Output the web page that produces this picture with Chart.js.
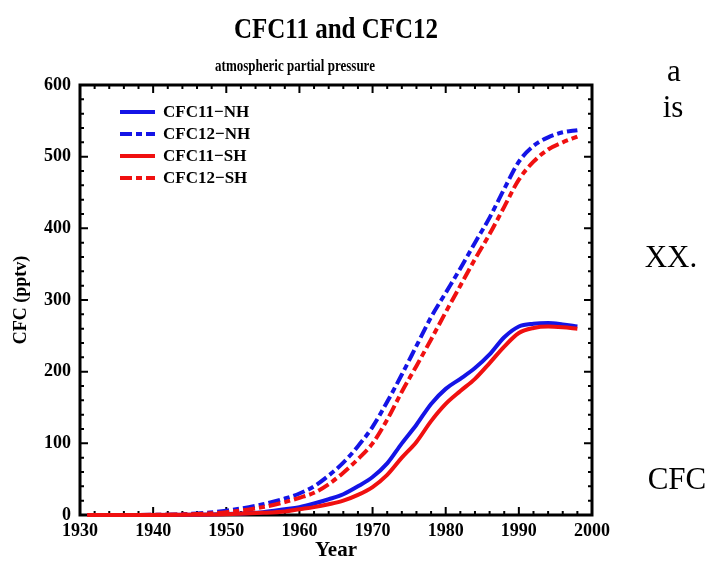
<!DOCTYPE html>
<html>
<head>
<meta charset="utf-8">
<script src="https://cdn.jsdelivr.net/npm/chart.js@4.4.0/dist/chart.umd.min.js"></script>
<style>
body { margin: 0; background: #fff; }
#wrap { position: relative; width: 712px; height: 563px; overflow: hidden; font-family: "Liberation Serif", "Times New Roman", serif; }
#chart { position: absolute; left: 0; top: 0; }
.t { position: absolute; white-space: nowrap; color: #000; line-height: 1; transform: translate(-50%, -50%); }
.b { font-weight: bold; transform: translate(-50%, -50%) scaleY(1.2); }
.sub { transform: translate(-50%, -50%) scaleY(1.35); }
.side { font-size: 31px; }
</style>
</head>
<body>
<div id="wrap">
  <canvas id="chart" width="712" height="563"></canvas>
  <div class="t b" style="left:336px;top:28px;font-size:25px;">CFC11 and CFC12</div>
  <div class="t b sub" style="left:295px;top:65px;font-size:13px;">atmospheric partial pressure</div>
  <div class="t side" style="left:674px;top:70px;">a</div>
  <div class="t side" style="left:673px;top:106px;">is</div>
  <div class="t side" style="left:671px;top:256px;">XX.</div>
  <div class="t side" style="left:677px;top:478px;">CFC</div>
</div>
<script>
// values (pptv)
const years = [1931, 1935, 1940, 1945, 1950, 1955, 1958, 1960, 1962, 1964, 1966, 1968, 1970,
               1972, 1974, 1976, 1978, 1980, 1982, 1984, 1986, 1988, 1990, 1992, 1994, 1996, 1998];
const cfc11NH = [0, 0, 0, 0.3, 1.5, 4, 8, 11, 16, 22, 29, 40, 53,
                 72, 100, 126, 155, 176, 190, 205, 224, 248, 263, 267, 268, 266, 263];
const cfc12NH = [0, 0, 0.3, 1.5, 6, 15, 23, 30, 40, 55, 73, 96, 123,
                 158, 196, 236, 276, 310, 344, 380, 415, 455, 493, 515, 527, 534, 537];
const cfc11SH = [0, 0, 0, 0.2, 1, 3, 5, 8, 11, 15, 20, 28, 39,
                 56, 80, 102, 131, 155, 173, 190, 212, 235, 254, 261, 263, 262, 260];
const cfc12SH = [0, 0, 0.2, 1, 4, 11, 18, 24, 31, 43, 59, 78, 100,
                 133, 172, 208, 245, 283, 320, 357, 392, 430, 468, 493, 510, 520, 528];

const seriesNames = ['CFC11\u2212NH', 'CFC12\u2212NH', 'CFC11\u2212SH', 'CFC12\u2212SH'];
const xTickLabels = ['1930', '1940', '1950', '1960', '1970', '1980', '1990', '2000'];
const yTickLabels = ['0', '100', '200', '300', '400', '500', '600'];

const BLUE = '#1414e6';
const RED = '#f01010';
const DASH = [12, 4, 6, 4];
const FONT = '"Liberation Serif", "Times New Roman", serif';

function pts(vals) {
    return years.map((yr, i) => ({ x: yr, y: vals[i] }));
}

function makeSet(label, vals, color, dashed, order) {
    return {
        label: label,
        data: pts(vals),
        borderColor: color,
        backgroundColor: color,
        borderWidth: 4,
        borderDash: dashed ? DASH : [],
        pointRadius: 0,
        fill: false,
        cubicInterpolationMode: 'monotone',
        clip: false,
        order: order
    };
}

// frame round the plot with inward major/minor ticks on all four sides
const frameTicks = {
    id: 'frameTicks',
    beforeDatasetsDraw(chart) {
        const { ctx, chartArea: a, scales: { x, y } } = chart;
        ctx.save();
        ctx.strokeStyle = '#000';
        ctx.lineWidth = 2;
        ctx.beginPath();
        for (let v = 1930; v <= 2000; v += 2) {
            const px = x.getPixelForValue(v);
            const len = v % 10 === 0 ? 8 : 4;
            ctx.moveTo(px, a.bottom); ctx.lineTo(px, a.bottom - len);
            ctx.moveTo(px, a.top); ctx.lineTo(px, a.top + len);
        }
        for (let v = 0; v <= 600; v += 20) {
            const py = y.getPixelForValue(v);
            const len = v % 100 === 0 ? 8 : 4;
            ctx.moveTo(a.left, py); ctx.lineTo(a.left + len, py);
            ctx.moveTo(a.right, py); ctx.lineTo(a.right - len, py);
        }
        ctx.stroke();
        ctx.lineWidth = 3;
        ctx.strokeRect(a.left, a.top, a.right - a.left, a.bottom - a.top);
        ctx.restore();
    }
};

// legend box inside the plot, top-left
const insideLegend = {
    id: 'insideLegend',
    afterDatasetsDraw(chart) {
        const ctx = chart.ctx;
        ctx.save();
        ctx.font = 'bold 17px ' + FONT;
        ctx.textBaseline = 'middle';
        ctx.fillStyle = '#000';
        chart.data.datasets.forEach((ds, i) => {
            const yy = 112 + i * 22;
            ctx.strokeStyle = ds.borderColor;
            ctx.lineWidth = 4;
            ctx.setLineDash(ds.borderDash);
            ctx.beginPath();
            ctx.moveTo(120, yy);
            ctx.lineTo(155, yy);
            ctx.stroke();
            ctx.setLineDash([]);
            ctx.fillText(ds.label, 163, yy + 1);
        });
        ctx.restore();
    }
};

new Chart(document.getElementById('chart'), {
    type: 'line',
    data: {
        datasets: [
            makeSet(seriesNames[0], cfc11NH, BLUE, false, 1),
            makeSet(seriesNames[1], cfc12NH, BLUE, true, 1),
            makeSet(seriesNames[2], cfc11SH, RED, false, 0),
            makeSet(seriesNames[3], cfc12SH, RED, true, 0)
        ]
    },
    options: {
        responsive: false,
        animation: false,
        layout: { padding: { top: 85, right: 120, left: 0, bottom: 0 } },
        plugins: {
            legend: { display: false },
            tooltip: { enabled: false }
        },
        scales: {
            x: {
                type: 'linear',
                min: 1930,
                max: 2000,
                afterFit(s) { s.height = 48; },
                grid: { display: false, drawTicks: false, tickLength: 0 },
                border: { display: false },
                ticks: {
                    stepSize: 10,
                    padding: 6,
                    color: '#000',
                    font: { family: FONT, size: 18, weight: 'bold' },
                    callback: (v) => xTickLabels[xTickLabels.indexOf(String(v))]
                },
                title: {
                    display: true,
                    text: 'Year',
                    color: '#000',
                    padding: { top: 0, bottom: 0 },
                    font: { family: FONT, size: 21, weight: 'bold' }
                }
            },
            y: {
                min: 0,
                max: 600,
                afterFit(s) { s.width = 80; },
                grid: { display: false, drawTicks: false, tickLength: 0 },
                border: { display: false },
                ticks: {
                    stepSize: 100,
                    padding: 9,
                    color: '#000',
                    font: { family: FONT, size: 18, weight: 'bold' },
                    callback: (v) => yTickLabels[yTickLabels.indexOf(String(v))]
                },
                title: {
                    display: true,
                    text: 'CFC (pptv)',
                    color: '#000',
                    padding: { top: 11, bottom: 0 },
                    font: { family: FONT, size: 18, weight: 'bold' }
                }
            }
        }
    },
    plugins: [frameTicks, insideLegend]
});
</script>
</body>
</html>
